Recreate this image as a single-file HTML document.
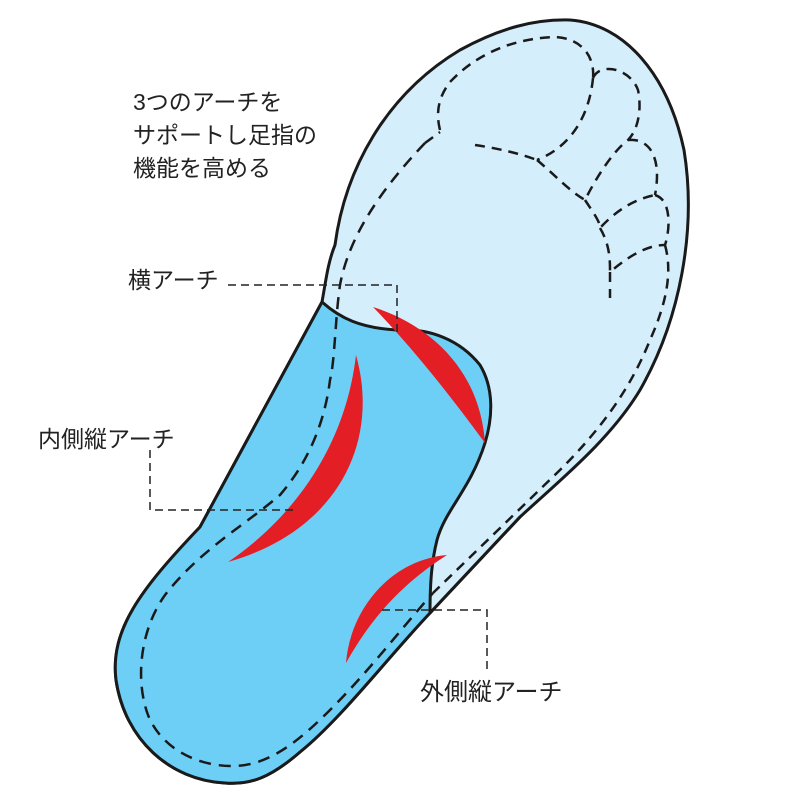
<!DOCTYPE html>
<html><head><meta charset="utf-8"><style>
html,body{margin:0;padding:0;background:#fff;}
svg{display:block}
text{font-family:"Liberation Sans","Noto Sans CJK JP",sans-serif;font-size:23px;fill:#222;}
</style></head><body>
<svg width="800" height="800" viewBox="0 0 800 800" xmlns="http://www.w3.org/2000/svg">
<path d="M322,302 C326,280 328,262 335,245 C345,170 385,95 460,50 C500,28 535,19 570,20 C625,24 668,75 684,150 C697,230 680,320 640,390 C610,440 560,480 520,517 L430,613 C390,655 340,720 300,752 C270,778 250,785 225,783 C170,780 125,740 116,680 C110,630 140,590 200,527 Z" fill="#d4eefb" stroke="#1a1a1a" stroke-width="3"/>
<path d="M322,302 C340,318 360,328 397,330 C430,328 460,340 480,365 C495,390 492,420 485,443 C470,490 445,510 437,540 C432,560 430,580 430,613 C390,655 340,720 300,752 C270,778 250,785 225,783 C170,780 125,740 116,680 C110,630 140,590 200,527 Z" fill="#6dcff6" stroke="#1a1a1a" stroke-width="3"/>
<path d="M430,613 L520,517" stroke="#1a1a1a" stroke-width="3" fill="none"/>
<path d="M440,130 C435,110 440,95 450,82 C480,50 520,38 555,37 C580,38 595,55 593,78 M593,78 C600,62 630,68 638,90 C642,110 638,130 628,140 M628,140 C650,138 662,158 655,195 M655,195 C672,200 670,230 665,245 M665,245 C672,270 668,300 650,340 C630,390 600,430 560,470 L433,593 M425,143 L440,132" fill="none" stroke="#1a1a1a" stroke-width="2.5" stroke-dasharray="10,7"/>
<path d="M425,143 C390,180 350,230 340,285 C335,320 335,360 330,380 C325,420 310,460 280,495 C245,525 200,550 165,595 C140,630 135,680 148,715 C162,750 200,767 235,766 C270,765 300,740 330,710 C370,670 400,630 433,593" fill="none" stroke="#1a1a1a" stroke-width="2.5" stroke-dasharray="12,8"/>
<path d="M593,78 C590,110 575,145 537,160 M475,145 C495,148 515,152 537,160 M537,160 C555,175 568,190 585,200 C595,180 612,152 628,140 M585,200 C595,215 600,222 600,228 C612,215 630,200 655,195 M600,228 C610,245 610,260 610,272 C630,255 648,245 665,245 M610,272 L610,298" fill="none" stroke="#1a1a1a" stroke-width="2.5" stroke-dasharray="10,7"/>
<path d="M373,307 C430,325 480,370 485,443 C450,395 410,345 373,307 Z" fill="#e31e25"/>
<path d="M356,355 C380,440 340,530 228,562 C290,520 345,450 356,355 Z" fill="#e31e25"/>
<path d="M447,555 C390,560 350,610 346,663 C370,620 400,585 447,555 Z" fill="#e31e25"/>
<g fill="none" stroke="#222" stroke-width="1.5" stroke-dasharray="8,5">
<path d="M228,285 L397,285 L397,332"/>
<path d="M150,450 L150,510 L293,510"/>
<path d="M382,610 L487,610 L487,670"/>
</g>
<text x="133" y="110">3つのアーチを</text>
<text x="133" y="143">サポートし足指の</text>
<text x="133" y="176">機能を高める</text>
<text x="128" y="288">横アーチ</text>
<text x="38" y="447">内側縦アーチ</text>
<text x="420" y="700" style="font-size:24px">外側縦アーチ</text>
</svg>
</body></html>
